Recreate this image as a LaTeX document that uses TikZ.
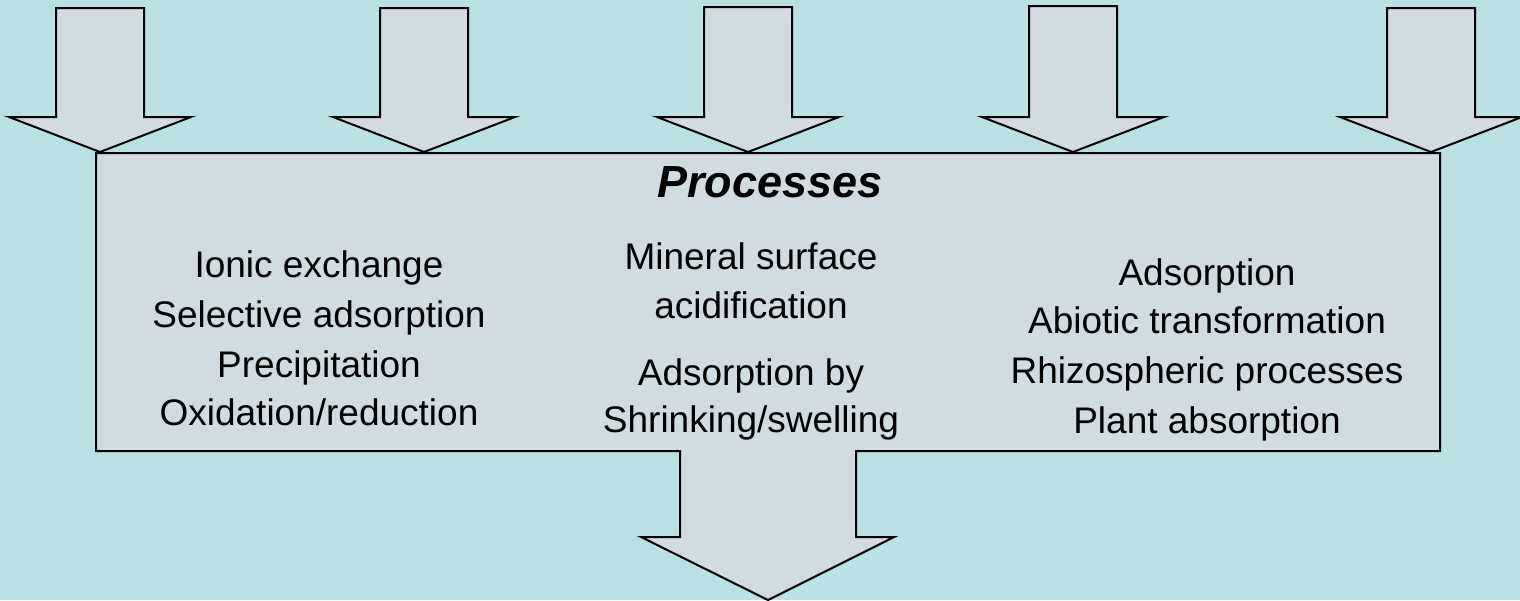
\documentclass[tikz,border=0pt]{standalone}
\usepackage{fontspec}
\setmainfont{Liberation Sans}
\definecolor{bgcol}{RGB}{185,224,227}
\definecolor{boxcol}{RGB}{208,219,226}
\begin{document}
\begin{tikzpicture}[x=1pt,y=-1pt,
  shapeline/.style={draw=black,fill=boxcol,line width=2pt,line join=miter},
  bodytext/.style={anchor=base,inner sep=0pt,font=\fontsize{37}{44}\selectfont},
  titletext/.style={anchor=base,inner sep=0pt,font=\fontsize{45}{50}\selectfont\bfseries\itshape}]
\useasboundingbox (0,0) rectangle (1520,600);
\fill[bgcol] (0,0) rectangle (1520,600);
% main box with outgoing arrow
\draw[shapeline] (96,153) -- (1440,153) -- (1440,451) -- (856,451) -- (856,537)
  -- (894,537) -- (768,600) -- (641,537) -- (680,537) -- (680,451) -- (96,451) -- cycle;
% incoming arrows
\foreach \c/\t in {100/8, 424/8, 748/7, 1073/6, 1431/8}{
  \draw[shapeline] (\c-44,\t) -- (\c+44,\t) -- (\c+44,117) -- (\c+91,117)
    -- (\c,152) -- (\c-91,117) -- (\c-44,117) -- cycle;
}
\node[titletext] (title) at (770,197) {Processes};
% column 1
\node[bodytext] (c1a) at (319,277) {Ionic exchange};
\node[bodytext] (c1b) at (319,327) {Selective adsorption};
\node[bodytext] (c1c) at (319,377) {Precipitation};
\node[bodytext] (c1d) at (319,425) {Oxidation/reduction};
% column 2
\node[bodytext] (c2a) at (751,269) {Mineral surface};
\node[bodytext] (c2b) at (751,318) {acidification};
\node[bodytext] (c2c) at (751,385) {Adsorption by};
\node[bodytext] (c2d) at (751,432) {Shrinking/swelling};
% column 3
\node[bodytext] (c3a) at (1207,285) {Adsorption};
\node[bodytext] (c3b) at (1207,333) {Abiotic transformation};
\node[bodytext] (c3c) at (1207,383) {Rhizospheric processes};
\node[bodytext] (c3d) at (1207,433) {Plant absorption};
\end{tikzpicture}
\end{document}
